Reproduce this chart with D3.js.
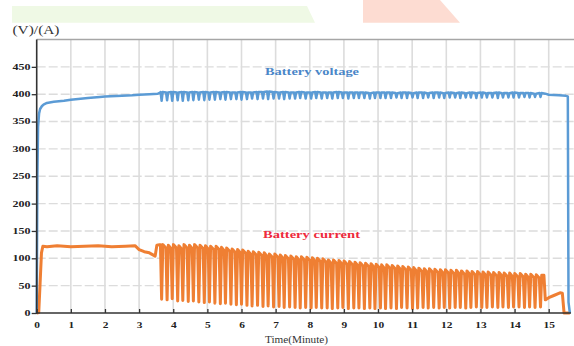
<!DOCTYPE html>
<html><head><meta charset="utf-8">
<script src="https://cdn.jsdelivr.net/npm/d3@7/dist/d3.min.js"></script>
<style>html,body{margin:0;padding:0;background:#fff;overflow:hidden}svg{display:block}</style>
</head><body>
<script>
// ---------- DATA ----------
const xTicks = [0,1,2,3,4,5,6,7,8,9,10,11,12,13,14,15];
const yTicks = [0,50,100,150,200,250,300,350,400,450];

// start-up ramp (before pulsing)
const rampTimeV = [0,0.02,0.04,0.07,0.1,0.15,0.2,0.3,0.5,0.8,1.0,1.5,1.85,2.0,2.5,2.8,3.0,3.3,3.55,3.62];
const rampVolt  = [0,250,340,365,373,378,381,384,386,388,390,393,395,396,397,398,399,400,401,403];
const rampTimeI = [0,0.06,0.1,0.14,0.18,0.3,0.6,1.0,1.4,1.8,2.2,2.6,2.88,3.0,3.15,3.3,3.47,3.52,3.6];
const rampCurr  = [0,1,55,110,122,121,123,121,122,123,121,122,123,116,112,110,104,124,125];

// pulsed charging: time of each dip (minutes)
const pulseTime = [3.66,3.82,3.97,4.13,4.28,4.44,4.59,4.75,4.91,5.06,5.22,5.38,5.53,5.69,5.85,6.00,6.16,6.31,6.47,6.63,6.78,6.94,7.10,7.25,7.41,7.57,7.72,7.88,8.04,8.19,8.35,8.51,8.66,8.82,8.97,9.13,9.29,9.44,9.60,9.76,9.91,10.07,10.22,10.38,10.54,10.69,10.85,11.01,11.16,11.32,11.47,11.63,11.79,11.94,12.10,12.26,12.41,12.57,12.72,12.88,13.04,13.19,13.35,13.51,13.66,13.82,13.97,14.13,14.29,14.44,14.60,14.76];
const currPeak  = [125,124,125,123,125,124,125, 124,123,122,122,120,119, 117,116,115,113,112,111, 110,108,108,106,105,104, 103,103,102,101,100,99, 97,97,96,95,94,93, 92,91,90,89,88,88, 87,86,85,84,83,82, 81,81,80,79,79,78, 78,77,77,76,76,75, 75,74,74,73,73,72, 72,71,71,70,69];
const currLow   = [25,24,26,22,23,21,22, 20,19,20,18,17,18, 16,15,16,14,13,14, 12,13,11,12,10,11, 10,9,10,9,10,9, 9,8,9,10,8,9, 9,8,9,8,9,8, 9,8,10,9,8,9, 10,9,10,9,10,9, 10,10,9,10,11,10, 10,11,10,11,10,11, 11,10,11,10,11];
const voltTop   = [404,403,404,403,404,403,404, 403,404,403,404,403,404, 403,403,404,403,403,404, 404,405,404,403,404,403, 403,404,403,403,404,403, 403,403,404,403,403,403, 403,403,402,403,403,403, 403,402,403,403,402,403, 403,402,403,403,402,403, 402,403,402,403,402,403, 402,402,403,402,402,403, 402,402,402,401,402];
const voltDip   = [388,389,388,389,388,389,389, 390,389,390,390,391,390, 391,391,390,391,392,391, 392,391,392,392,391,392, 392,393,392,392,393,392, 393,392,393,393,392,393, 393,393,392,393,393,393, 393,394,393,393,394,393, 393,394,393,394,393,394, 394,393,394,394,393,394, 394,394,393,394,394,394, 394,395,394,395,395];

// tail (end of charge)
const tailTimeV = [14.9,15.0,15.3,15.5,15.56,15.58,15.62];
const tailVolt  = [401,399,398,397,396,20,0];
const tailTimeI = [14.86,14.9,15.0,15.15,15.33,15.4,15.45,15.62];
const tailCurr  = [69,24,28,32,37,36,0,0];

// ---------- BUILD SERIES ----------
const voltage = rampTimeV.map((t,i)=>[t,rampVolt[i]]);
const current = rampTimeI.map((t,i)=>[t,rampCurr[i]]);
pulseTime.forEach((t,i)=>{
  voltage.push([t-0.03, voltTop[i]],[t, voltDip[i]],[t+0.03, voltTop[i]]);
  const prev = i===0 ? 125 : currPeak[i-1]-6;
  current.push([t-0.035, prev],[t, currLow[i]],[t+0.035, currPeak[i]]);
});
tailTimeV.forEach((t,i)=>voltage.push([t,tailVolt[i]]));
tailTimeI.forEach((t,i)=>current.push([t,tailCurr[i]]));

// ---------- DRAW ----------
const W=574,H=346;
const svg=d3.select("body").append("svg").attr("width",W).attr("height",H);
const x=d3.scaleLinear().domain([0,15.7]).range([36.7,572.6]);
const y=d3.scaleLinear().domain([0,500]).range([313,39.5]);

// scan artefacts at the top
svg.append("path").attr("d","M12,6 L307,6 L315,22.7 L12,22.7 Z").attr("fill","#eff9e5");
svg.append("path").attr("d","M363,0 L440,0 L460,22.7 L363,22.7 Z").attr("fill","#fddcd2");

const g=svg.append("g");
// vertical grid
g.selectAll(".vg").data(xTicks.slice(1)).enter().append("line")
  .attr("x1",d=>x(d)).attr("x2",d=>x(d)).attr("y1",y(500)).attr("y2",y(0))
  .attr("stroke","#dcdcdc").attr("stroke-width",1.6);
// horizontal grid (dashed)
g.selectAll(".hg").data(yTicks.slice(1)).enter().append("line")
  .attr("x1",x(0)).attr("x2",W).attr("y1",d=>y(d)).attr("y2",d=>y(d))
  .attr("stroke","#dcdcdc").attr("stroke-width",1.4).attr("stroke-dasharray","9,3");
// top border
g.append("line").attr("x1",x(0)).attr("x2",W).attr("y1",y(500)).attr("y2",y(500))
  .attr("stroke","#a6a6a6").attr("stroke-width",1.3);

const line=d3.line().x(d=>x(d[0])).y(d=>y(d[1]));
g.append("path").datum(current).attr("d",line).attr("fill","none")
  .attr("stroke","#ef7f33").attr("stroke-width",3).attr("stroke-linejoin","round");
g.append("path").datum(voltage).attr("d",line).attr("fill","none")
  .attr("stroke","#5b9bd5").attr("stroke-width",2.5).attr("stroke-linejoin","round");

// axes
const xAxis=d3.axisBottom(x).tickValues(xTicks).tickSize(0).tickPadding(0).tickFormat(d3.format("d"));
const ax=svg.append("g").attr("transform",`translate(0,${y(0)})`).call(xAxis);
ax.select(".domain").remove();
ax.append("line").attr("x1",x(0)).attr("x2",571).attr("y1",0).attr("y2",0).attr("stroke","#333").attr("stroke-width",1.6);
ax.selectAll(".tick").append("line").attr("y1",0).attr("y2",-4).attr("stroke","#333").attr("stroke-width",1.3);
ax.selectAll(".tick text").attr("y",14.7).attr("dy",null).attr("fill","#222")
  .style("font-family","'Liberation Serif',serif").style("font-size","9px").style("font-weight","bold")
  .attr("textLength",d=>String(d).length*5.7).attr("lengthAdjust","spacingAndGlyphs");

const yAxis=d3.axisLeft(y).tickValues(yTicks).tickSize(0).tickPadding(0);
const ay=svg.append("g").attr("transform",`translate(${x(0)},0)`).call(yAxis);
ay.select(".domain").remove();
ay.append("line").attr("x1",0).attr("x2",0).attr("y1",y(500)).attr("y2",y(0)+1).attr("stroke","#333").attr("stroke-width",1.6);
ay.selectAll(".tick").append("line").attr("x1",0).attr("x2",-5).attr("stroke","#333").attr("stroke-width",1.3);
ay.selectAll(".tick text").attr("x",-6.3).attr("dy","0.32em").attr("fill","#222")
  .style("font-family","'Liberation Serif',serif").style("font-size","7.5px").style("font-weight","bold")
  .attr("textLength",d=>String(d).length*6).attr("lengthAdjust","spacingAndGlyphs");

// texts
function txt(s,xx,yy,size,w,color,bold){
  svg.append("text").attr("x",xx).attr("y",yy).text(s)
    .attr("textLength",w).attr("lengthAdjust","spacingAndGlyphs")
    .attr("fill",color).style("font-family","'Liberation Serif',serif")
    .style("font-size",size+"px").style("font-weight",bold?"bold":"normal");
}
txt("(V)/(A)",12.5,34,12,47,"#333",false);
txt("Battery voltage",265,75,10.5,94,"#4a86c8",true);
txt("Battery current",263,237.5,10.5,97,"#ee2a3c",true);
txt("Time(Minute)",265,343,10,63,"#333",false);
</script>
</body></html>
